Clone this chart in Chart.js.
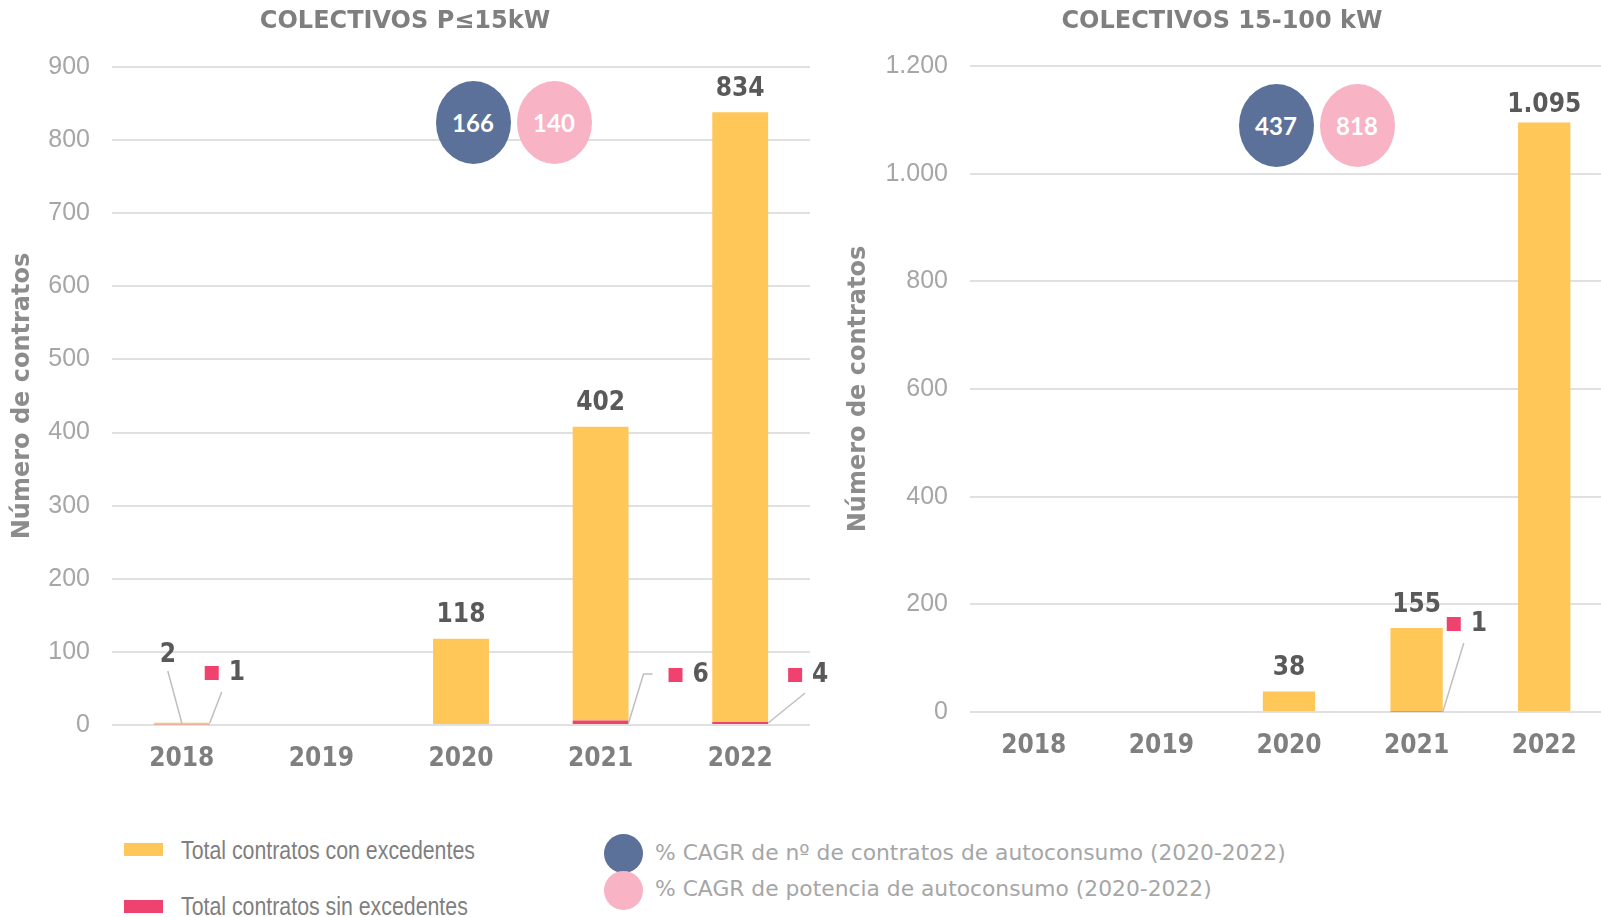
<!DOCTYPE html>
<html><head><meta charset="utf-8">
<script src="https://cdn.jsdelivr.net/npm/chart.js@4.4.1/dist/chart.umd.min.js"></script>
<style>
html,body{margin:0;padding:0;background:#fff;overflow:hidden;}
#wrap{position:relative;width:1601px;height:917px;overflow:hidden;}
.box{position:absolute;top:0;height:790px;}
.bub{position:absolute;border-radius:50%;color:#fff;font:bold 24px Lato,'Open Sans',sans-serif;display:flex;align-items:center;justify-content:center;}
.lg-rect{position:absolute;width:39px;height:13px;}
.lg-txt{position:absolute;font:26px 'Liberation Sans',Arial,sans-serif;color:#7f7f7f;line-height:30px;height:30px;white-space:nowrap;transform:scaleX(0.82);transform-origin:0 50%;}
.lg-dot{position:absolute;width:39px;height:39px;border-radius:50%;}
.lg-txt2{position:absolute;font:21.8px 'DejaVu Sans',Verdana,sans-serif;color:#a6a6a6;line-height:26px;height:26px;white-space:nowrap;}
</style></head><body>
<div id="wrap">
  <div class="box" style="left:0;width:832px;"><canvas id="c1"></canvas></div>
  <div class="box" style="left:836px;width:772px;"><canvas id="c2"></canvas></div>
  <div id="bubbles"></div>
  <div class="lg-rect" style="left:124px;top:843px;background:#FFC658"></div>
  <div class="lg-txt" style="left:181px;top:835px;">Total contratos con excedentes</div>
  <div class="lg-rect" style="left:124px;top:900px;background:#EF426F"></div>
  <div class="lg-txt" style="left:181px;top:891px;">Total contratos sin excedentes</div>
  <div class="lg-dot" style="left:604px;top:834px;background:#5B7199"></div>
  <div class="lg-txt2" style="left:655px;top:840px;">% CAGR de nº de contratos de autoconsumo (2020-2022)</div>
  <div class="lg-dot" style="left:604px;top:871px;background:#F8B3C5"></div>
  <div class="lg-txt2" style="left:655px;top:876px;">% CAGR de potencia de autoconsumo (2020-2022)</div>
</div>
<script>
// ---- data ----
const years = ['2018', '2019', '2020', '2021', '2022'];
const titles = ['COLECTIVOS P≤15kW', 'COLECTIVOS 15-100 kW'];
const conExcP15 = [2, 0, 118, 402, 834];
const sinExcP15 = [1, 0, 0, 6, 4];
const conExc15_100 = [0, 0, 38, 155, 1095];
const sinExc15_100 = [0, 0, 0, 1, 0];
const yMax = [900, 1200];
const yStep = [100, 200];
const cagrContratos = [166, 437];
const cagrPotencia = [140, 818];
const yTitle = 'Número de contratos';

// ---- styles ----
const YELLOW = '#FFC658', RED = '#EF426F', BLUE = '#5B7199', PINK = '#F8B3C5';
const COND = "'DejaVu Sans Condensed','DejaVu Sans',sans-serif";
const WIDE = "'DejaVu Sans',Verdana,sans-serif";
const fmt = v => String(v).replace(/\B(?=(\d{3})+(?!\d))/g, '.');

// label placement (offsets in px relative to bar)
const placements = [
  {
    con: {0: {dx: -14, dy: -70, leader: [[-14, -54], [0, -2]]}},
    top: {},
    sin: {
      0: {mx: 2, my: -52, leader: [[0, -2], [12, -33]]},
      3: {mx: 47, my: -50, leader: [[0, -2], [15, -51], [24, -51]]},
      4: {mx: 27, my: -50, leader: [[0, -2], [37, -32]]}
    }
  },
  {
    con: {},
    top: {4: -17},
    sin: {3: {mx: 11, my: -88, leader: [[0, 0], [21, -69]]}}
  }
];

const labelPlugin = {
  id: 'labels',
  afterDatasetsDraw(chart) {
    const idx = chart.options.plugins.labels.idx;
    const pl = placements[idx];
    const ctx = chart.ctx;
    const sinMeta = chart.getDatasetMeta(0), conMeta = chart.getDatasetMeta(1);
    const sinVals = chart.data.datasets[0].data, conVals = chart.data.datasets[1].data;
    const zeroY = chart.scales.y.getPixelForValue(0);
    ctx.save();
    ctx.textAlign = 'center';
    ctx.textBaseline = 'middle';
    ctx.font = 'bold 26px ' + COND;
    ctx.fillStyle = '#595959';
    ctx.strokeStyle = '#bfbfbf';
    ctx.lineWidth = 1.5;
    conVals.forEach((v, i) => {
      if (!v) return;
      const bar = conMeta.data[i];
      const p = pl.con[i];
      if (p) {
        ctx.beginPath();
        ctx.moveTo(bar.x + p.leader[0][0], zeroY + p.leader[0][1]);
        for (let k = 1; k < p.leader.length; k++) ctx.lineTo(bar.x + p.leader[k][0], zeroY + p.leader[k][1]);
        ctx.stroke();
        ctx.fillText(fmt(v), bar.x + p.dx, zeroY + p.dy);
      } else {
        const off = pl.top[i] !== undefined ? pl.top[i] : -23;
        ctx.fillText(fmt(v), bar.x, bar.y + off);
      }
    });
    sinVals.forEach((v, i) => {
      if (!v) return;
      const bar = sinMeta.data[i];
      const rx = bar.x + bar.width / 2;
      const p = pl.sin[i];
      if (!p) return;
      ctx.beginPath();
      ctx.moveTo(rx + p.leader[0][0], zeroY + p.leader[0][1]);
      for (let k = 1; k < p.leader.length; k++) ctx.lineTo(rx + p.leader[k][0], zeroY + p.leader[k][1]);
      ctx.stroke();
      ctx.fillStyle = RED;
      ctx.fillRect(rx + p.mx - 7, zeroY + p.my - 7, 14, 14);
      ctx.fillStyle = '#595959';
      ctx.textAlign = 'left';
      ctx.fillText(fmt(v), rx + p.mx + 17, zeroY + p.my);
      ctx.textAlign = 'center';
    });
    ctx.restore();
  }
};

function makeChart(id, idx, con, sin, yWidth, xHeight, titleBottom, padRight) {
  return new Chart(document.getElementById(id), {
    type: 'bar',
    data: {
      labels: years,
      datasets: [
        {label: 'Total contratos sin excedentes', data: sin, backgroundColor: RED, stack: 's'},
        {label: 'Total contratos con excedentes', data: con, backgroundColor: YELLOW, stack: 's'}
      ]
    },
    options: {
      responsive: true,
      maintainAspectRatio: false,
      animation: false,
      layout: {padding: {left: 0, right: padRight, top: 0, bottom: 0}},
      datasets: {bar: {categoryPercentage: 1, barPercentage: idx === 0 ? 0.4 : 0.41}},
      plugins: {
        legend: {display: false},
        tooltip: {enabled: false},
        labels: {idx},
        title: {
          display: true, text: titles[idx], color: '#7f7f7f',
          font: {family: WIDE, size: 24, weight: 'bold', lineHeight: 1.2},
          padding: {top: 7, bottom: titleBottom}
        }
      },
      scales: {
        x: {
          stacked: true,
          grid: {display: false, drawTicks: false},
          border: {display: false},
          ticks: {color: '#7f7f7f', font: {family: COND, size: 26, weight: 'bold'}, padding: 19},
          afterFit: s => { s.height = xHeight; }
        },
        y: {
          stacked: true,
          min: 0, max: yMax[idx],
          grid: {color: '#e0e0e0', lineWidth: 2, drawTicks: false},
          border: {display: false},
          ticks: {stepSize: yStep[idx], color: '#a6a6a6', padding: 22,
                  font: {family: "'Liberation Sans',Arial,sans-serif", size: 25},
                  callback: v => fmt(v)},
          title: {display: true, text: yTitle, color: '#8c8c8c',
                  font: {family: WIDE, size: 24, weight: 'bold', lineHeight: 1.2},
                  padding: {top: 8, bottom: 0}},
          afterFit: s => { s.width = yWidth; }
        }
      }
    },
    plugins: [labelPlugin]
  });
}

makeChart('c1', 0, conExcP15, sinExcP15, 112, 65, 31.2, 22);
makeChart('c2', 1, conExc15_100, sinExc15_100, 134, 78, 30.2, 0);

// CAGR bubbles
const bubblePos = [
  [{cx: 473, cy: 122}, {cx: 554, cy: 122}],
  [{cx: 1276, cy: 125}, {cx: 1357, cy: 125}]
];
const bubWrap = document.getElementById('bubbles');
[0, 1].forEach(i => {
  [[cagrContratos[i], BLUE], [cagrPotencia[i], PINK]].forEach(([val, col], k) => {
    const d = document.createElement('div');
    d.className = 'bub';
    const p = bubblePos[i][k];
    d.style.left = (p.cx - 37.5) + 'px';
    d.style.top = (p.cy - 41.5) + 'px';
    d.style.width = '75px';
    d.style.height = '83px';
    d.style.background = col;
    d.textContent = val;
    bubWrap.appendChild(d);
  });
});
</script>
</body></html>
